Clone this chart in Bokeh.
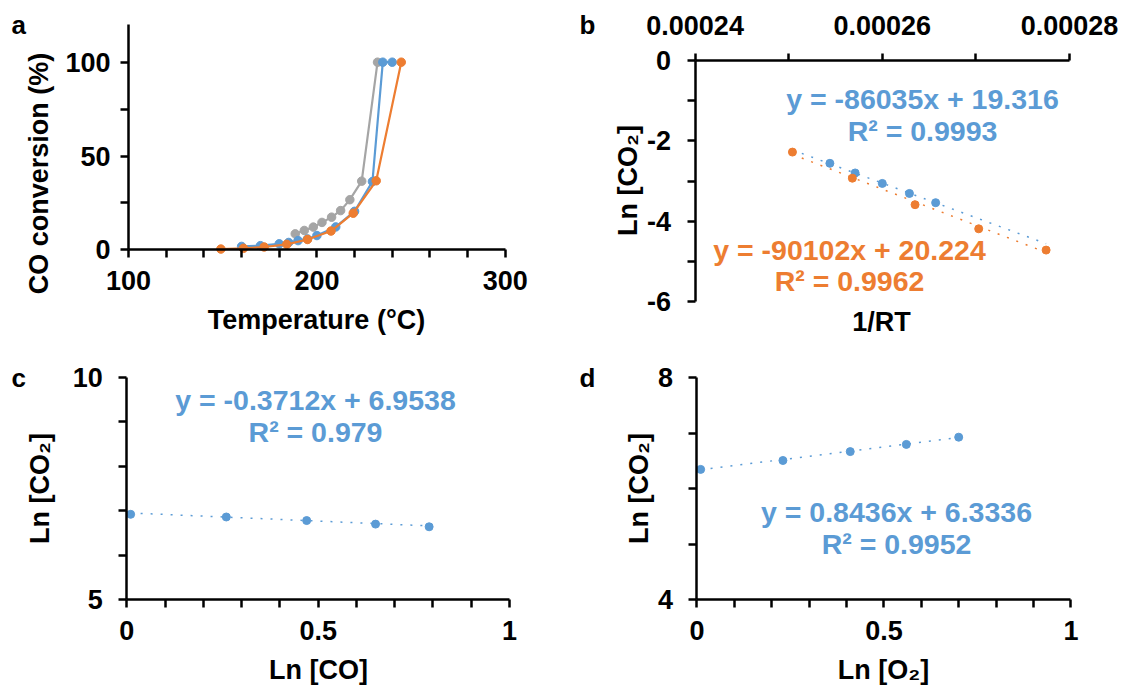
import numpy as np
from bokeh.plotting import figure
from bokeh.layouts import column, row
from bokeh.models import FixedTicker, CustomJSTickFormatter, Label, Range1d
from bokeh.embed import file_html
from bokeh.resources import INLINE

# ---------------- data ----------------
# panel a: CO conversion vs temperature
temp_gray = [188.5, 193.3, 198.1, 202.7, 207.8, 212.6, 217.5, 223.8, 232.2]
conv_gray = [8.5, 10.3, 12.1, 14.6, 17.4, 20.9, 26.7, 36.6, 100]
temp_blue = [160, 170, 180, 185, 190, 195, 200, 210, 220, 229.5, 235, 240]
conv_blue = [1.8, 2.2, 3.2, 3.9, 4.9, 5.8, 7.6, 12.2, 20.5, 36.4, 100, 100]
temp_orange = [149, 161, 172, 184, 195, 207.5, 219.3, 231.5, 244.8]
conv_orange = [0.4, 0.8, 1.5, 2.9, 5.5, 10.0, 19.5, 36.8, 100]

# panel b: Arrhenius plot
rt_blue = [0.0002544, 0.0002571, 0.0002600, 0.0002629, 0.0002657]
lnco2_b_blue = [-2.56, -2.80, -3.06, -3.31, -3.54]
rt_orange = [0.0002504, 0.0002568, 0.0002635, 0.0002703, 0.0002775]
lnco2_b_orange = [-2.28, -2.93, -3.59, -4.19, -4.72]
fit_b_blue = [-86035, 19.316]
fit_b_orange = [-90102, 20.224]

# panel c: reaction order in CO
ln_co = [0.01, 0.26, 0.47, 0.65, 0.79]
lnco2_c = [6.92, 6.86, 6.78, 6.70, 6.64]
fit_c = [-0.3712, 6.9538]

# panel d: reaction order in O2
ln_o2 = [0.01, 0.23, 0.41, 0.56, 0.70]
lnco2_d = [6.35, 6.51, 6.67, 6.80, 6.93]
fit_d = [0.8436, 6.3336]

# axis extents and ticks
a_x_bounds = (100, 300)
a_y_bounds = (0, 120)
a_x_major = [100, 200, 300]
a_x_minor = [120, 140, 160, 180, 220, 240, 260, 280]
a_y_major = [0, 50, 100]
a_y_minor = [25, 75]
b_x_bounds = (0.00024, 0.00028)
b_y_bounds = (-6, 0)
b_x_major = [0.00024, 0.00026, 0.00028]
b_x_minor = [0.00025, 0.00027]
b_y_major = [-6, -4, -2, 0]
b_y_minor = [-5, -3, -1]
cd_x_bounds = (0, 1)
cd_x_major = [0, 0.5, 1]
cd_x_minor = [0.1, 0.2, 0.3, 0.4, 0.6, 0.7, 0.8, 0.9]
c_y_bounds = (5, 10)
c_y_major = [5, 10]
c_y_minor = [6, 7, 8, 9]
d_y_bounds = (4, 8)
d_y_major = [4, 8]
d_y_minor = [5, 6, 7]

BLUE = "#5B9BD5"
ORANGE = "#ED7D31"
GRAY = "#A5A5A5"
FONT = "Liberation Sans"


def span_range(v1, p1, v2, p2, size, vertical=False):
    """Range so that value v1 sits at pixel p1 and v2 at p2 (pixels from left / top)."""
    def val_at(p):
        return v1 + (p - p1) * (v2 - v1) / (p2 - p1)
    if vertical:
        return Range1d(val_at(size), val_at(0))
    return Range1d(val_at(0), val_at(size))


def make_fig(geo, xanch, yanch, x_loc="below"):
    xr = span_range(*xanch, geo["w"])
    yr = span_range(*yanch, geo["h"], vertical=True)
    p = figure(width=geo["w"], height=geo["h"], x_range=xr, y_range=yr,
               output_backend="svg", toolbar_location=None, x_axis_location=x_loc,
               min_border=0, min_border_left=0, min_border_right=0,
               min_border_top=0, min_border_bottom=0)
    p.grid.visible = False
    p.outline_line_color = None
    p.background_fill_color = "white"
    p.border_fill_color = "white"
    for ax in p.axis:
        ax.axis_line_color = "black"
        ax.axis_line_width = 2.5
        ax.major_tick_line_color = "black"
        ax.major_tick_line_width = 2.5
        ax.minor_tick_line_color = "black"
        ax.minor_tick_line_width = 2.5
        ax.major_tick_in = 0
        ax.minor_tick_in = 0
        ax.major_tick_out = 8
        ax.minor_tick_out = 8
        ax.major_label_text_font = FONT
        ax.major_label_text_font_style = "bold"
        ax.major_label_text_font_size = "27px"
        ax.major_label_text_color = "black"
        ax.formatter = CustomJSTickFormatter(code="return String(tick)")
    return p


def add_text(p, geo, X, Y, text, size="27px", color="black", align="center",
             baseline="middle", angle=0.0):
    x = X - geo["x0"]
    y = (geo["y0"] + geo["h"]) - Y
    p.add_layout(Label(x=x, y=y, x_units="screen", y_units="screen", text=text,
                       text_font=FONT, text_font_style="bold", text_font_size=size,
                       text_color=color, text_align=align, text_baseline=baseline,
                       angle=angle))


geo_a = dict(x0=0, y0=0, w=560, h=340)
geo_b = dict(x0=560, y0=0, w=561, h=340)
geo_c = dict(x0=0, y0=340, w=560, h=345)
geo_d = dict(x0=560, y0=340, w=561, h=345)

# ---------------- panel a ----------------
pa = make_fig(geo_a, (100, 128.1, 300, 504.7), (0, 249.3, 100, 61.7))
pa.xaxis.ticker = FixedTicker(ticks=a_x_major, minor_ticks=a_x_minor)
pa.yaxis.ticker = FixedTicker(ticks=a_y_major, minor_ticks=a_y_minor)
pa.xaxis.bounds = a_x_bounds
pa.yaxis.bounds = a_y_bounds
pa.xaxis.fixed_location = a_y_bounds[0]
pa.yaxis.fixed_location = a_x_bounds[0]
pa.xaxis.major_label_standoff = 13
pa.yaxis.major_label_standoff = 10
for xs, ys, c in [(temp_gray, conv_gray, GRAY), (temp_blue, conv_blue, BLUE),
                  (temp_orange, conv_orange, ORANGE)]:
    pa.line(xs, ys, line_color=c, line_width=2.2)
    pa.scatter(xs, ys, size=8.5, fill_color=c, line_color=c)
add_text(pa, geo_a, 11, 24, "a", size="26px", align="left")
add_text(pa, geo_a, 38, 173, "CO conversion (%)", angle=np.pi / 2)
add_text(pa, geo_a, 316, 319, "Temperature (°C)")

# ---------------- panel b ----------------
pb = make_fig(geo_b, (0.00024, 134.6, 0.00028, 509.0), (0, 60, -6, 301), x_loc="above")
pb.xaxis.ticker = FixedTicker(ticks=b_x_major, minor_ticks=b_x_minor)
pb.yaxis.ticker = FixedTicker(ticks=b_y_major, minor_ticks=b_y_minor)
pb.xaxis.bounds = b_x_bounds
pb.yaxis.bounds = b_y_bounds
pb.xaxis.fixed_location = b_y_bounds[1]
pb.yaxis.fixed_location = b_x_bounds[0]
pb.xaxis.major_tick_out = 7
pb.xaxis.minor_tick_out = 7
pb.xaxis.major_label_standoff = 19
pb.yaxis.major_label_standoff = 16
x_all = rt_blue + rt_orange
xt = np.array([min(x_all), max(x_all)])
pb.line(xt, fit_b_blue[0] * xt + fit_b_blue[1], line_color=BLUE, line_width=1.5, line_dash="2 8")
pb.line(xt, fit_b_orange[0] * xt + fit_b_orange[1], line_color=ORANGE, line_width=1.5, line_dash="2 8")
pb.scatter(rt_blue, lnco2_b_blue, size=8, fill_color=BLUE, line_color=BLUE)
pb.scatter(rt_orange, lnco2_b_orange, size=8, fill_color=ORANGE, line_color=ORANGE)
add_text(pb, geo_b, 579, 24, "b", size="26px", align="left")
add_text(pb, geo_b, 627, 180, "Ln [CO₂]", angle=np.pi / 2)
add_text(pb, geo_b, 881, 321, "1/RT")
add_text(pb, geo_b, 922, 98, "y = -86035x + 19.316", size="28.5px", color=BLUE)
add_text(pb, geo_b, 922, 130, "R² = 0.9993", size="28.5px", color=BLUE)
add_text(pb, geo_b, 849, 249, "y = -90102x + 20.224", size="28.5px", color=ORANGE)
add_text(pb, geo_b, 849, 280, "R² = 0.9962", size="28.5px", color=ORANGE)

# ---------------- panel c ----------------
pc = make_fig(geo_c, (0, 126.3, 1, 509.0), (10, 36.7, 5, 259.3))
pc.xaxis.ticker = FixedTicker(ticks=cd_x_major, minor_ticks=cd_x_minor)
pc.yaxis.ticker = FixedTicker(ticks=c_y_major, minor_ticks=c_y_minor)
pc.xaxis.bounds = cd_x_bounds
pc.yaxis.bounds = c_y_bounds
pc.xaxis.fixed_location = c_y_bounds[0]
pc.yaxis.fixed_location = cd_x_bounds[0]
pc.xaxis.major_label_standoff = 13
pc.yaxis.major_label_standoff = 16
xc = np.array([min(ln_co), max(ln_co)])
pc.line(xc, fit_c[0] * xc + fit_c[1], line_color=BLUE, line_width=1.5, line_dash="2 8")
pc.scatter(ln_co, lnco2_c, size=8, fill_color=BLUE, line_color=BLUE)
add_text(pc, geo_c, 11, 377, "c", size="26px", align="left")
add_text(pc, geo_c, 39, 488, "Ln [CO₂]", angle=np.pi / 2)
add_text(pc, geo_c, 318, 669, "Ln [CO]")
add_text(pc, geo_c, 315, 399, "y = -0.3712x + 6.9538", size="28.5px", color=BLUE)
add_text(pc, geo_c, 315, 431, "R² = 0.979", size="28.5px", color=BLUE)

# ---------------- panel d ----------------
pd_ = make_fig(geo_d, (0, 136.4, 1, 510.4), (8, 37.3, 4, 259.3))
pd_.xaxis.ticker = FixedTicker(ticks=cd_x_major, minor_ticks=cd_x_minor)
pd_.yaxis.ticker = FixedTicker(ticks=d_y_major, minor_ticks=d_y_minor)
pd_.xaxis.bounds = cd_x_bounds
pd_.yaxis.bounds = d_y_bounds
pd_.xaxis.fixed_location = d_y_bounds[0]
pd_.yaxis.fixed_location = cd_x_bounds[0]
pd_.xaxis.major_label_standoff = 13
pd_.yaxis.major_label_standoff = 16
xd = np.array([min(ln_o2), max(ln_o2)])
pd_.line(xd, fit_d[0] * xd + fit_d[1], line_color=BLUE, line_width=1.5, line_dash="2 8")
pd_.scatter(ln_o2, lnco2_d, size=8, fill_color=BLUE, line_color=BLUE)
add_text(pd_, geo_d, 579, 377, "d", size="26px", align="left")
add_text(pd_, geo_d, 638, 488, "Ln [CO₂]", angle=np.pi / 2)
add_text(pd_, geo_d, 883, 669, "Ln [O₂]")
add_text(pd_, geo_d, 896, 511, "y = 0.8436x + 6.3336", size="28.5px", color=BLUE)
add_text(pd_, geo_d, 896, 543, "R² = 0.9952", size="28.5px", color=BLUE)

layout = column(row(pa, pb), row(pc, pd_))
open("out.html", "w").write(file_html(layout, INLINE))
